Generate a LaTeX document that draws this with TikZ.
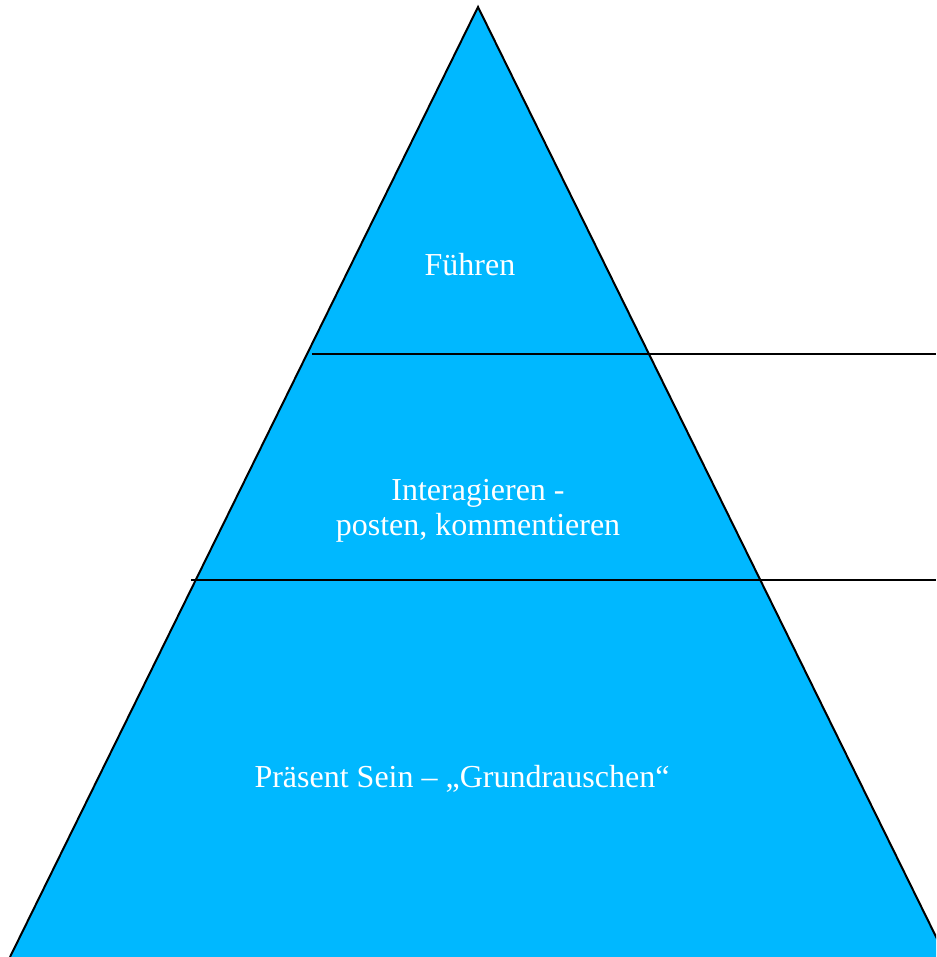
\documentclass[tikz,border=0pt]{standalone}
\usepackage{fontspec}
\setmainfont{Liberation Serif}
\usetikzlibrary{positioning}
\definecolor{pyrblue}{RGB}{0,184,255}
\tikzset{
  level/.style={text=white,align=center,font=\fontsize{32}{35}\selectfont},
  sep/.style={line width=2pt}
}
\begin{document}
\begin{tikzpicture}[x=1pt,y=-1pt]
\useasboundingbox (0,0) rectangle (936,957);
\clip (0,0) rectangle (936,957);
\coordinate (top) at (478,7);
\coordinate (bl) at (10,957);
\coordinate (br) at (946,957);
\coordinate (s1a) at (312,354);
\coordinate (s1b) at (936,354);
\coordinate (s2a) at (191,580);
\coordinate (s2b) at (936,580);
\fill[pyrblue] (bl) -- (top) -- (br) -- cycle;
\draw[line width=2pt] (bl) -- (top) -- (br);
\draw[sep] (s1a) -- (s1b);
\draw[sep] (s2a) -- (s2b);
\node[level] (fuehren) at (470,265) {Führen};
\node[level] (inter) at (478,511) {Interagieren -\\posten, kommentieren};
\node[level] (praesent) at (462,779) {Präsent Sein – „Grundrauschen“};
\end{tikzpicture}
\end{document}
